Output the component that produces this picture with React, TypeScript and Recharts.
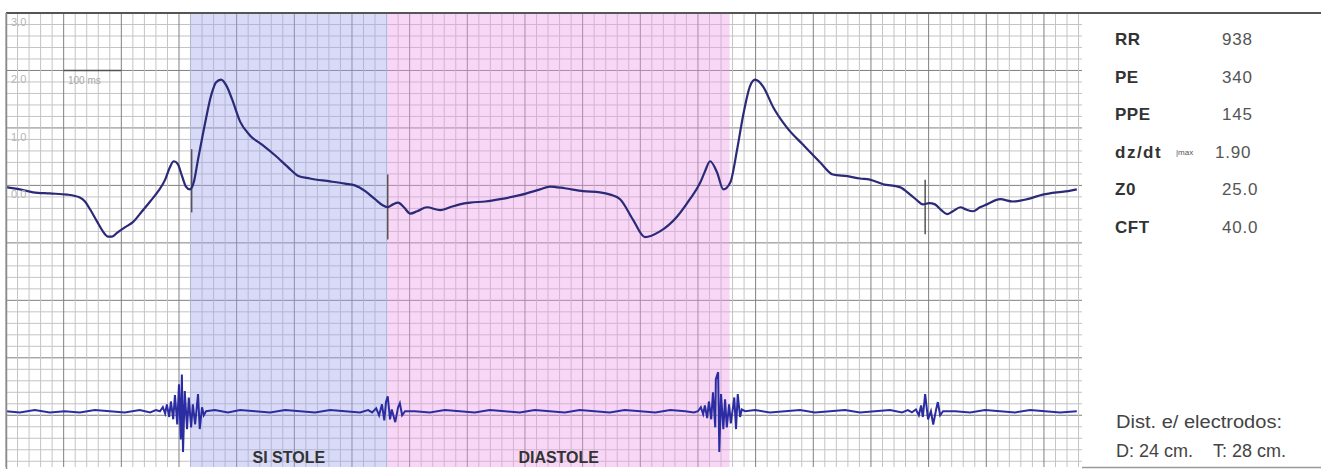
import {
  CartesianGrid,
  ComposedChart,
  Line,
  ReferenceArea,
  ReferenceLine,
  XAxis,
  YAxis,
} from "recharts";

// impedance derivative trace, [ms, value]
const icgTrace: [number, number][] = [
  [0, -0.03], [24, -0.07], [47, -0.12], [76, -0.14], [106, -0.16], [128, -0.21],
  [137, -0.28], [146, -0.42], [158, -0.63], [168, -0.8], [177, -0.89], [184, -0.89],
  [193, -0.82], [206, -0.73], [220, -0.64], [236, -0.45], [250, -0.28], [264, -0.1],
  [276, 0.1], [284, 0.31], [291, 0.42], [298, 0.37], [305, 0.17], [312, -0.02],
  [319, -0.07], [326, 0.07], [333, 0.45], [342, 0.92], [349, 1.27], [354, 1.5],
  [359, 1.67], [364, 1.79], [373, 1.84], [382, 1.74], [392, 1.5], [406, 1.11],
  [423, 0.87], [444, 0.71], [467, 0.52], [493, 0.28], [506, 0.17], [527, 0.12],
  [562, 0.07], [588, 0.03], [605, 0.0], [623, -0.1], [640, -0.24], [654, -0.35],
  [662, -0.38], [671, -0.33], [680, -0.3], [690, -0.38], [701, -0.49], [713, -0.45],
  [730, -0.38], [753, -0.43], [770, -0.38], [787, -0.33], [805, -0.3], [831, -0.28],
  [857, -0.24], [891, -0.17], [926, -0.07], [943, -0.02], [969, -0.05], [1001, -0.1],
  [1030, -0.12], [1048, -0.16], [1065, -0.24], [1087, -0.59], [1108, -0.9], [1134, -0.8],
  [1164, -0.54], [1186, -0.24], [1204, 0.05], [1212, 0.24], [1221, 0.42], [1233, 0.23],
  [1244, -0.07], [1256, 0.05], [1268, 0.63], [1278, 1.2], [1290, 1.72], [1299, 1.84],
  [1313, 1.72], [1330, 1.37], [1354, 1.01], [1382, 0.71], [1412, 0.4], [1434, 0.19],
  [1459, 0.16], [1481, 0.12], [1498, 0.1], [1521, 0.02], [1550, -0.03], [1568, -0.16],
  [1580, -0.26], [1590, -0.33], [1601, -0.31], [1611, -0.33], [1622, -0.43], [1632, -0.5],
  [1642, -0.45], [1655, -0.38], [1665, -0.42], [1677, -0.45], [1689, -0.38], [1701, -0.33],
  [1724, -0.24], [1746, -0.28], [1771, -0.24], [1798, -0.16], [1823, -0.12], [1842, -0.1],
  [1857, -0.07],
];

// heart sounds trace, [ms, value]
const pcgTrace: [number, number][] = [
  [0, -3.93], [24, -3.95], [50, -3.91], [76, -3.95], [102, -3.93], [128, -3.95],
  [154, -3.91], [180, -3.93], [206, -3.95], [232, -3.91], [250, -3.95], [260, -3.91],
  [267, -3.93], [272, -3.86], [276, -3.97], [279, -3.81], [283, -4.03], [286, -3.76],
  [290, -4.07], [293, -3.65], [297, -4.16], [300, -3.46], [303, -4.42], [305, -3.29],
  [307, -4.64], [310, -3.58], [314, -4.24], [317, -3.69], [321, -4.21], [324, -3.81],
  [328, -4.16], [333, -3.63], [336, -4.24], [340, -3.86], [343, -4.0], [347, -3.93],
  [362, -3.91], [385, -3.95], [406, -3.91], [432, -3.93], [458, -3.95], [484, -3.91],
  [510, -3.93], [536, -3.95], [562, -3.91], [588, -3.93], [614, -3.95], [628, -3.91],
  [635, -3.95], [642, -3.88], [647, -4.0], [652, -3.81], [656, -4.09], [659, -3.77],
  [662, -3.67], [666, -4.07], [669, -3.9], [675, -4.12], [680, -3.86], [683, -3.79],
  [687, -4.0], [692, -3.93],
  [709, -3.93], [735, -3.95], [761, -3.91], [787, -3.93], [813, -3.95], [839, -3.91],
  [865, -3.93], [891, -3.95], [917, -3.91], [943, -3.93], [969, -3.95], [995, -3.91],
  [1021, -3.93], [1047, -3.95], [1073, -3.91], [1100, -3.93], [1126, -3.95], [1152, -3.91],
  [1178, -3.93], [1193, -3.95],
  [1200, -3.93], [1205, -3.86], [1209, -3.98], [1212, -3.83], [1216, -4.05], [1219, -3.76],
  [1223, -4.07], [1226, -3.6], [1230, -4.21], [1231, -3.37], [1235, -3.25], [1237, -4.64],
  [1240, -3.63], [1244, -4.24], [1247, -3.72], [1250, -4.21], [1254, -3.81], [1257, -4.14],
  [1263, -3.69], [1266, -4.24], [1269, -3.63], [1273, -4.03], [1276, -3.9], [1282, -3.93],
  [1299, -3.91], [1325, -3.95], [1351, -3.93], [1377, -3.91], [1403, -3.95], [1429, -3.93],
  [1455, -3.91], [1481, -3.95], [1507, -3.93], [1533, -3.91], [1554, -3.95], [1564, -3.91],
  [1571, -3.95], [1578, -3.9], [1583, -4.0], [1587, -3.83], [1590, -4.03], [1594, -3.63],
  [1599, -4.07], [1604, -3.93], [1608, -4.16], [1613, -3.9], [1616, -3.77], [1620, -4.0],
  [1625, -3.93],
  [1646, -3.93], [1672, -3.95], [1698, -3.91], [1724, -3.93], [1750, -3.95], [1776, -3.91],
  [1802, -3.93], [1828, -3.95], [1857, -3.93],
];

const phases = [
  { name: "SI STOLE", from: 319, to: 662, fill: "#9ea3ea" },
  { name: "DIASTOLE", from: 662, to: 1255, fill: "#eb9be6" },
];

// short event marks [ms, top, bottom]
const marks: [number, number, number][] = [
  [322, 0.63, -0.47],
  [662, 0.19, -0.94],
  [1594, 0.1, -0.85],
];

const yLabels = [3, 2, 1, 0];

const paramNames = ["RR", "PE", "PPE", "dz/dt", "Z0", "CFT"];
const paramValues = ["938", "340", "145", "1.90", "25.0", "40.0"];

const X_MAX = 1866;
const Y_MIN = -4.9;
const Y_MAX = 3;
const PLOT = { left: 6, top: 13, width: 1076, height: 454 };

const minorX: number[] = [];
for (let t = 0; t <= X_MAX; t += 20) minorX.push(t);
const minorY: number[] = [];
for (let k = 15; k >= -24; k--) minorY.push(k / 5);

const font = "'Liberation Sans', Arial, sans-serif";

// grid lines: every 5th line is darker
const gridLine = (vals: number[], step: number) => (props: any) => {
  const { x1, y1, x2, y2, index } = props;
  const v = vals[index] ?? 0;
  const major = Math.round(v / step) % 5 === 0;
  return (
    <line
      key={`g-${x1}-${y1}-${index}`}
      x1={x1}
      y1={y1}
      x2={x2}
      y2={y2}
      stroke={major ? "#808080" : "#c4c4c4"}
      strokeWidth={1}
    />
  );
};

const vCoords = ({ xAxis, offset }: any) =>
  minorX.map((t) =>
    xAxis && typeof xAxis.scale === "function"
      ? xAxis.scale(t)
      : offset.left + (t / X_MAX) * offset.width,
  );
const hCoords = ({ yAxis, offset }: any) =>
  minorY.map((v) =>
    yAxis && typeof yAxis.scale === "function"
      ? yAxis.scale(v)
      : offset.top + ((Y_MAX - v) / (Y_MAX - Y_MIN)) * offset.height,
  );

export default function App() {
  const icgData = icgTrace.map(([t, z]) => ({ t, z }));
  const pcgData = pcgTrace.map(([t, a]) => ({ t, a }));

  return (
    <div
      style={{
        position: "absolute",
        left: 0,
        top: 0,
        width: 1321,
        height: 469,
        background: "#fff",
        fontFamily: font,
      }}
    >
      <ComposedChart
        width={1321}
        height={469}
        margin={{
          top: PLOT.top,
          right: 1321 - PLOT.left - PLOT.width,
          bottom: 469 - PLOT.top - PLOT.height,
          left: PLOT.left,
        }}
      >
        <XAxis type="number" dataKey="t" domain={[0, X_MAX]} hide allowDataOverflow />
        <YAxis type="number" domain={[Y_MIN, Y_MAX]} hide allowDataOverflow />
        {phases.map((p) => (
          <ReferenceArea
            key={p.name}
            x1={p.from}
            x2={p.to}
            fill={p.fill}
            fillOpacity={0.4}
            stroke="none"
            label={{
              value: p.name,
              position: "insideBottom",
              offset: 4,
              fill: "#333",
              fontSize: 16,
              fontWeight: 700,
              fontFamily: font,
            }}
          />
        ))}
        <CartesianGrid
          verticalCoordinatesGenerator={vCoords}
          horizontalCoordinatesGenerator={hCoords}
          horizontal={gridLine(minorY, 0.2)}
          vertical={gridLine(minorX, 20)}
        />
        {yLabels.map((v) => (
          <ReferenceLine
            key={v}
            y={v}
            stroke="none"
            label={{
              value: v.toFixed(1),
              position: "insideTopLeft",
              offset: 5,
              fill: "#b5b5b5",
              fontSize: 11,
              fontFamily: font,
            }}
          />
        ))}
        <ReferenceLine
          segment={[
            { x: 100, y: 2 },
            { x: 200, y: 2 },
          ]}
          stroke="#555"
          strokeWidth={1.5}
        />
        {marks.map(([t, hi, lo]) => (
          <ReferenceLine
            key={t}
            segment={[
              { x: t, y: hi },
              { x: t, y: lo },
            ]}
            stroke="#555"
            strokeWidth={1.5}
          />
        ))}
        <Line
          data={icgData}
          dataKey="z"
          type="monotone"
          stroke="#2a2a78"
          strokeWidth={2.2}
          dot={false}
          activeDot={false}
          isAnimationActive={false}
        />
        <Line
          data={pcgData}
          dataKey="a"
          type="linear"
          stroke="#2c2ca2"
          strokeWidth={2}
          dot={false}
          activeDot={false}
          isAnimationActive={false}
        />
      </ComposedChart>

      <svg
        width={1321}
        height={469}
        style={{ position: "absolute", left: 0, top: 0, pointerEvents: "none" }}
        fontFamily={font}
      >
        <line x1={6} y1={13} x2={1321} y2={13} stroke="#555" strokeWidth={2} />
        <line x1={6.5} y1={13} x2={6.5} y2={469} stroke="#8a8a8a" strokeWidth={1.5} />
        <line x1={1082} y1={467.5} x2={1321} y2={467.5} stroke="#9a9a9a" strokeWidth={1.5} />
        <text x={68} y={84} fontSize={10} fill="#a8a8a8">
          100 ms
        </text>
        {paramNames.map((n, i) => (
          <text
            key={n}
            x={1115}
            y={45 + i * 37.6}
            fontSize={17}
            fontWeight={700}
            fill="#333"
            letterSpacing={n === "dz/dt" ? 1.5 : 0.5}
          >
            {n}
          </text>
        ))}
        <text x={1176} y={155} fontSize={8} fill="#555">
          |max
        </text>
        {paramValues.map((v, i) => (
          <text
            key={i}
            x={v === "1.90" ? 1215 : 1222}
            y={45 + i * 37.6}
            fontSize={17}
            fill="#555"
            letterSpacing={0.8}
          >
            {v}
          </text>
        ))}
        <text x={1116} y={428} fontSize={18} fill="#444" textLength={166} lengthAdjust="spacingAndGlyphs">
          Dist. e/ electrodos:
        </text>
        <text x={1116} y={457} fontSize={18} fill="#444">
          D: 24 cm.
        </text>
        <text x={1213} y={457} fontSize={18} fill="#444">
          T: 28 cm.
        </text>
      </svg>
    </div>
  );
}
